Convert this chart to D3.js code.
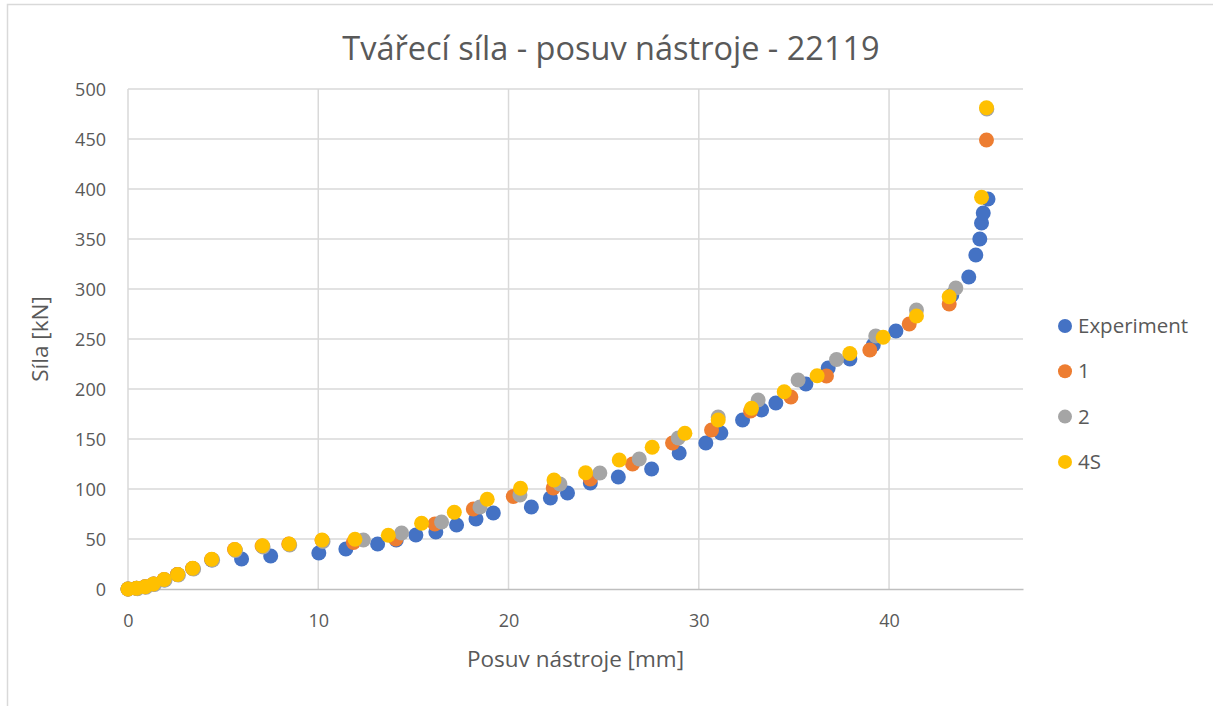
<!DOCTYPE html>
<html>
<head>
<meta charset="utf-8">
<script src="https://cdn.jsdelivr.net/npm/d3@7"></script>
<style>
  html, body { margin: 0; padding: 0; background: #fff; }
  svg { display: block; }
  text { font-family: "Open Sans", "Noto Sans", sans-serif; fill: #595959; }
</style>
</head>
<body>
<svg id="chart" width="1213" height="706"></svg>
<script>
// Forming force vs. tool travel, four series
const seriesNames = ["Experiment", "1", "2", "4S"];
const seriesColors = ["#4472C4", "#ED7D31", "#A5A5A5", "#FFC000"];

const experimentX = [0, 0.45, 0.9, 1.35, 1.9, 2.6, 3.4, 4.4, 5.97, 7.5, 10.03, 11.45, 13.12, 14.1, 15.13, 16.18, 17.27, 18.29, 19.2, 21.2, 22.2, 23.1, 24.3, 25.77, 27.52, 28.97, 30.37, 31.16, 32.3, 33.3, 34.05, 35.63, 36.8, 37.94, 39.17, 40.36, 43.3, 44.19, 44.56, 44.77, 44.86, 44.95, 45.2];
const experimentY = [0, 0.7, 2.3, 5, 9, 14.5, 20.5, 29, 30, 33, 36, 40, 45, 49, 54, 57, 64, 70, 76, 82, 91, 96, 106, 112, 120, 136, 146, 156, 169, 179, 186, 205, 221, 230, 244, 258, 294, 312, 334, 350, 366, 376, 390];

const s1X = [0, 0.45, 0.9, 1.35, 1.9, 2.6, 3.4, 4.4, 5.6, 7.05, 8.45, 10.2, 11.85, 14.08, 16.13, 18.15, 20.25, 22.35, 24.3, 26.52, 28.62, 30.67, 32.72, 34.84, 36.71, 38.99, 41.06, 43.16, 45.12];
const s1Y = [0, 0.7, 2.3, 5, 9.5, 14.5, 20.5, 29.5, 39.5, 43, 45, 48.5, 46.5, 50, 65, 80, 92.5, 101, 110, 125, 146, 159, 178, 192, 213, 239, 265, 285, 449];

const s2X = [0, 0.5, 0.95, 1.4, 1.95, 2.65, 3.45, 4.45, 5.65, 7.1, 8.5, 10.25, 12.37, 14.38, 16.48, 18.5, 20.6, 22.7, 24.8, 26.87, 28.92, 31.02, 33.12, 35.22, 37.24, 39.3, 41.44, 43.51, 45.14];
const s2Y = [0, 0.3, 1.8, 4.5, 9, 14, 20, 29, 38.5, 42, 44, 47.5, 49, 56, 67, 82, 94, 105, 116, 130, 151, 172, 189, 209, 229.5, 253, 279, 301, 480];

const s4X = [0, 0.45, 0.9, 1.33, 1.9, 2.61, 3.4, 4.4, 5.62, 7.07, 8.47, 10.2, 11.93, 13.68, 15.43, 17.15, 18.88, 20.63, 22.39, 24.05, 25.82, 27.55, 29.27, 31.02, 32.77, 34.49, 36.22, 37.94, 39.69, 41.44, 43.16, 44.86, 45.12];
const s4Y = [0, 0.7, 2.3, 5, 9.5, 14.5, 20.7, 29.7, 39.5, 43.3, 45, 49, 49.7, 53.7, 65.7, 76.7, 89.7, 100.7, 109, 116.3, 129, 141.7, 155.7, 169, 180.7, 197.3, 213.3, 235.5, 251.7, 273, 292.3, 391.7, 481.3];

const xTicks = [0, 10, 20, 30, 40];
const yTicks = [0, 50, 100, 150, 200, 250, 300, 350, 400, 450, 500];

const titleText = "Tvářecí síla - posuv nástroje - 22119";
const xTitle = "Posuv nástroje [mm]";
const yTitle = "Síla [kN]";

const seriesX = [experimentX, s1X, s2X, s4X];
const seriesY = [experimentY, s1Y, s2Y, s4Y];

const svg = d3.select("#chart");

// outer chart frame
svg.append("rect")
  .attr("x", 7.5).attr("y", 4.5)
  .attr("width", 1240).attr("height", 720)
  .attr("fill", "#fff").attr("stroke", "#D9D9D9").attr("stroke-width", 1.5);

const plot = { left: 128, right: 1023, top: 89, bottom: 589 };

const x = d3.scaleLinear().domain([0, 47.04]).range([plot.left, plot.right]);
const y = d3.scaleLinear().domain([0, 500]).range([plot.bottom, plot.top]);

// gridlines
const grid = svg.append("g");
grid.selectAll("line.h").data(yTicks.filter(d => d > 0)).join("line")
  .attr("x1", plot.left).attr("x2", plot.right)
  .attr("y1", d => y(d)).attr("y2", d => y(d))
  .attr("stroke", "#D9D9D9").attr("stroke-width", 1.5);
grid.selectAll("line.v").data(xTicks).join("line")
  .attr("x1", d => x(d)).attr("x2", d => x(d))
  .attr("y1", plot.top).attr("y2", plot.bottom)
  .attr("stroke", "#D9D9D9").attr("stroke-width", 1.5);

// axes
const xAxis = svg.append("g")
  .attr("transform", `translate(0,${plot.bottom})`)
  .call(d3.axisBottom(x).tickValues(xTicks).tickSize(0).tickPadding(0).tickFormat(d3.format("d")));
xAxis.select(".domain").attr("stroke", "#BFBFBF").attr("stroke-width", 1.5);
xAxis.selectAll(".tick text")
  .attr("y", 38).attr("dy", null)
  .style("font-size", "18px").style("font-family", "'Open Sans'").attr("fill", "#595959");

const yAxis = svg.append("g")
  .attr("transform", `translate(${plot.left},0)`)
  .call(d3.axisLeft(y).tickValues(yTicks).tickSize(0).tickPadding(0).tickFormat(d3.format("d")));
yAxis.select(".domain").remove();
yAxis.selectAll(".tick text")
  .attr("x", -22).attr("dy", "0.35em")
  .style("font-size", "18px").style("font-family", "'Open Sans'").attr("fill", "#595959");

// titles
svg.append("text")
  .attr("x", 611).attr("y", 60)
  .attr("text-anchor", "middle")
  .style("font-size", "32.5px")
  .text(titleText);

svg.append("text")
  .attr("x", (plot.left + plot.right) / 2).attr("y", 667)
  .attr("text-anchor", "middle")
  .style("font-size", "22.5px")
  .text(xTitle);

svg.append("text")
  .attr("transform", `translate(48,${(plot.top + plot.bottom) / 2}) rotate(-90)`)
  .attr("text-anchor", "middle")
  .style("font-size", "22.5px")
  .text(yTitle);

// scatter markers
seriesNames.forEach((name, i) => {
  const pts = seriesX[i].map((v, j) => [v, seriesY[i][j]]);
  svg.append("g").selectAll("circle").data(pts).join("circle")
    .attr("cx", d => x(d[0])).attr("cy", d => y(d[1]))
    .attr("r", 7.5)
    .attr("fill", seriesColors[i]);
});

// legend
const legend = svg.append("g").attr("transform", "translate(1065,326)");
seriesNames.forEach((name, i) => {
  const g = legend.append("g").attr("transform", `translate(0,${i * 45.3})`);
  g.append("circle").attr("r", 7).attr("fill", seriesColors[i]);
  g.append("text").attr("x", 13).attr("dy", "0.35em")
    .style("font-size", "20.5px").text(name);
});
</script>
</body>
</html>
